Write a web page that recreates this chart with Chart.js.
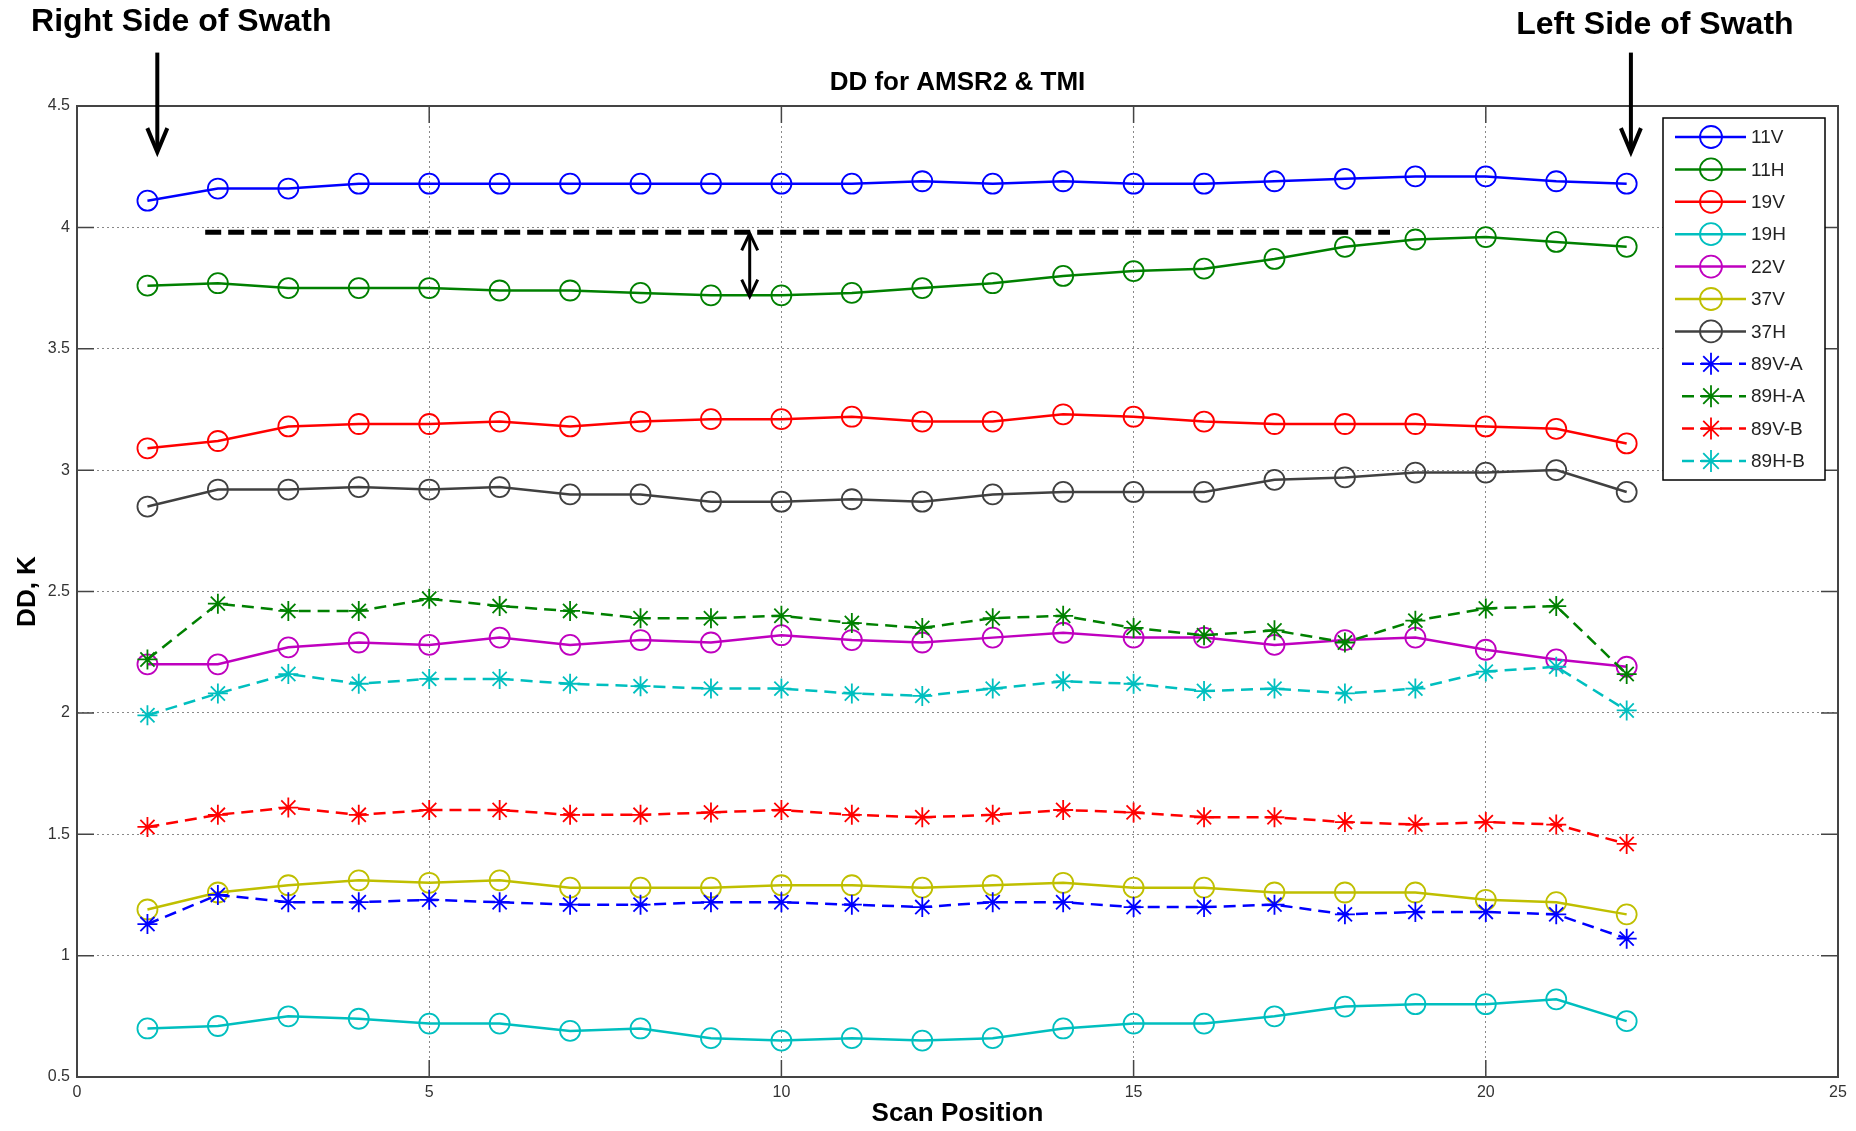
<!DOCTYPE html>
<html lang="en">
<head>
    <meta charset="UTF-8">
    <title>DD for AMSR2 &amp; TMI</title>
    <script src="https://cdn.jsdelivr.net/npm/chart.js"></script>
    <style>
        body { margin: 0; background: #fff; }
        #wrap { width: 1856px; height: 1131px; }
    </style>
</head>
<body>
<div id="wrap"><canvas id="ddChart" width="1856" height="1131"></canvas></div>
<script>
    // Scan positions and DD values (K)
    const scanPos = [1, 2, 3, 4, 5, 6, 7, 8, 9, 10, 11, 12, 13, 14, 15, 16, 17, 18, 19, 20, 21, 22];
    const dd11V  = [4.11, 4.16, 4.16, 4.18, 4.18, 4.18, 4.18, 4.18, 4.18, 4.18, 4.18, 4.19, 4.18, 4.19, 4.18, 4.18, 4.19, 4.20, 4.21, 4.21, 4.19, 4.18];
    const dd11H  = [3.76, 3.77, 3.75, 3.75, 3.75, 3.74, 3.74, 3.73, 3.72, 3.72, 3.73, 3.75, 3.77, 3.80, 3.82, 3.83, 3.87, 3.92, 3.95, 3.96, 3.94, 3.92];
    const dd19V  = [3.09, 3.12, 3.18, 3.19, 3.19, 3.20, 3.18, 3.20, 3.21, 3.21, 3.22, 3.20, 3.20, 3.23, 3.22, 3.20, 3.19, 3.19, 3.19, 3.18, 3.17, 3.11];
    const dd19H  = [0.70, 0.71, 0.75, 0.74, 0.72, 0.72, 0.69, 0.70, 0.66, 0.65, 0.66, 0.65, 0.66, 0.70, 0.72, 0.72, 0.75, 0.79, 0.80, 0.80, 0.82, 0.73];
    const dd22V  = [2.20, 2.20, 2.27, 2.29, 2.28, 2.31, 2.28, 2.30, 2.29, 2.32, 2.30, 2.29, 2.31, 2.33, 2.31, 2.31, 2.28, 2.30, 2.31, 2.26, 2.22, 2.19];
    const dd37V  = [1.19, 1.26, 1.29, 1.31, 1.30, 1.31, 1.28, 1.28, 1.28, 1.29, 1.29, 1.28, 1.29, 1.30, 1.28, 1.28, 1.26, 1.26, 1.26, 1.23, 1.22, 1.17];
    const dd37H  = [2.85, 2.92, 2.92, 2.93, 2.92, 2.93, 2.90, 2.90, 2.87, 2.87, 2.88, 2.87, 2.90, 2.91, 2.91, 2.91, 2.96, 2.97, 2.99, 2.99, 3.00, 2.91];
    const dd89VA = [1.13, 1.25, 1.22, 1.22, 1.23, 1.22, 1.21, 1.21, 1.22, 1.22, 1.21, 1.20, 1.22, 1.22, 1.20, 1.20, 1.21, 1.17, 1.18, 1.18, 1.17, 1.07];
    const dd89HA = [2.22, 2.45, 2.42, 2.42, 2.47, 2.44, 2.42, 2.39, 2.39, 2.40, 2.37, 2.35, 2.39, 2.40, 2.35, 2.32, 2.34, 2.29, 2.38, 2.43, 2.44, 2.16];
    const dd89VB = [1.53, 1.58, 1.61, 1.58, 1.60, 1.60, 1.58, 1.58, 1.59, 1.60, 1.58, 1.57, 1.58, 1.60, 1.59, 1.57, 1.57, 1.55, 1.54, 1.55, 1.54, 1.46];
    const dd89HB = [1.99, 2.08, 2.16, 2.12, 2.14, 2.14, 2.12, 2.11, 2.10, 2.10, 2.08, 2.07, 2.10, 2.13, 2.12, 2.09, 2.10, 2.08, 2.10, 2.17, 2.19, 2.01];

    const seriesNames  = ['11V', '11H', '19V', '19H', '22V', '37V', '37H', '89V-A', '89H-A', '89V-B', '89H-B'];
    const seriesValues = [dd11V, dd11H, dd19V, dd19H, dd22V, dd37V, dd37H, dd89VA, dd89HA, dd89VB, dd89HB];
    const seriesColors = ['#0000ff', '#008000', '#ff0000', '#00bfbf', '#bf00bf', '#bfbf00', '#404040',
                          '#0000ff', '#008000', '#ff0000', '#00bfbf'];
    const seriesDashed = [false, false, false, false, false, false, false, true, true, true, true];

    const xTicks = [0, 5, 10, 15, 20, 25];
    const yTicks = [0.5, 1, 1.5, 2, 2.5, 3, 3.5, 4, 4.5];

    // annotation anchors, in data units
    const gapLineX = [1.82, 18.64];
    const gapLineY = 3.98;
    const gapArrowX = 9.55;
    const gapArrowY = [3.975, 3.715];
    const swathArrowX = [1.14, 22.06];
    const swathArrowY = [4.72, 4.31];
    const swathLabels = ['Right Side of Swath', 'Left Side of Swath'];

    const FONT = "'Liberation Sans', Arial, Helvetica, sans-serif";

    const datasets = seriesValues.map((vals, i) => ({
        label: seriesNames[i],
        data: scanPos.map((x, j) => ({ x: x, y: vals[j] })),
        borderColor: seriesColors[i],
        backgroundColor: 'transparent',
        borderWidth: 2.5,
        borderDash: seriesDashed[i] ? [12, 7] : [],
        pointStyle: seriesDashed[i] ? 'star' : 'circle',
        pointRadius: 10,
        pointBorderWidth: 1.8,
        pointBorderColor: seriesColors[i],
        pointBackgroundColor: 'transparent',
        tension: 0,
        order: seriesNames.length - i
    }));

    // MATLAB-like box with inward ticks on all four sides
    const boxPlugin = {
        id: 'box',
        afterDatasetsDraw(chart) {
            const { ctx, chartArea: a, scales: { x, y } } = chart;
            const tl = 17;
            ctx.save();
            ctx.strokeStyle = '#444';
            ctx.lineWidth = 1.5;
            ctx.beginPath();
            xTicks.forEach(v => {
                const px = x.getPixelForValue(v);
                ctx.moveTo(px, a.bottom); ctx.lineTo(px, a.bottom - tl);
                ctx.moveTo(px, a.top); ctx.lineTo(px, a.top + tl);
            });
            yTicks.forEach(v => {
                const py = y.getPixelForValue(v);
                ctx.moveTo(a.left, py); ctx.lineTo(a.left + tl, py);
                ctx.moveTo(a.right, py); ctx.lineTo(a.right - tl, py);
            });
            ctx.stroke();
            ctx.lineWidth = 2;
            ctx.strokeRect(a.left, a.top, a.right - a.left, a.bottom - a.top);
            ctx.restore();
        }
    };

    function arrowHead(ctx, tx, ty, dir, half, len) {
        ctx.beginPath();
        ctx.moveTo(tx - half, ty - dir * len);
        ctx.lineTo(tx, ty);
        ctx.lineTo(tx + half, ty - dir * len);
        ctx.stroke();
    }

    // dashed reference line, double arrow, swath labels and arrows
    const notesPlugin = {
        id: 'notes',
        afterDraw(chart) {
            const { ctx, scales: { x, y } } = chart;
            ctx.save();
            ctx.strokeStyle = '#000';
            ctx.lineCap = 'butt';

            // dashed black line
            ctx.lineWidth = 5;
            ctx.setLineDash([16, 7]);
            ctx.beginPath();
            ctx.moveTo(x.getPixelForValue(gapLineX[0]), y.getPixelForValue(gapLineY));
            ctx.lineTo(x.getPixelForValue(gapLineX[1]), y.getPixelForValue(gapLineY));
            ctx.stroke();
            ctx.setLineDash([]);

            // double-headed arrow
            const ax = x.getPixelForValue(gapArrowX);
            const ay0 = y.getPixelForValue(gapArrowY[0]);
            const ay1 = y.getPixelForValue(gapArrowY[1]);
            ctx.lineWidth = 3;
            ctx.beginPath();
            ctx.moveTo(ax, ay0); ctx.lineTo(ax, ay1);
            ctx.stroke();
            arrowHead(ctx, ax, ay0, -1, 8, 17);
            arrowHead(ctx, ax, ay1, 1, 8, 17);

            // swath arrows and labels
            ctx.font = 'bold 32px ' + FONT;
            ctx.fillStyle = '#000';
            ctx.textAlign = 'center';
            ctx.textBaseline = 'middle';
            swathArrowX.forEach((sx, i) => {
                const px = x.getPixelForValue(sx);
                const top = y.getPixelForValue(swathArrowY[0]);
                const tip = y.getPixelForValue(swathArrowY[1]);
                ctx.lineWidth = 4;
                ctx.beginPath();
                ctx.moveTo(px, top); ctx.lineTo(px, tip - 2);
                ctx.stroke();
                arrowHead(ctx, px, tip, 1, 10, 24);
                ctx.fillText(swathLabels[i], px + 24, i === 0 ? 22 : 25);
            });

            // plot title
            ctx.font = 'bold 26px ' + FONT;
            ctx.fillText('DD for AMSR2 & TMI', (chart.chartArea.left + chart.chartArea.right) / 2, 83);
            ctx.restore();
        }
    };

    // legend box inside the axes, top right
    const legendPlugin = {
        id: 'boxLegend',
        afterDraw(chart) {
            const ctx = chart.ctx;
            const bx = 1663, by = 118, bw = 162, bh = 362, rowH = 32.4, firstRow = 137;
            ctx.save();
            ctx.fillStyle = '#fff';
            ctx.fillRect(bx, by, bw, bh);
            ctx.strokeStyle = '#000';
            ctx.lineWidth = 1.5;
            ctx.strokeRect(bx, by, bw, bh);
            chart.data.datasets.forEach((ds, i) => {
                const cy = firstRow + i * rowH;
                ctx.strokeStyle = ds.borderColor;
                ctx.lineWidth = 2.5;
                ctx.setLineDash(ds.borderDash);
                ctx.beginPath();
                ctx.moveTo(seriesDashed[i] ? 1682 : 1675, cy);
                ctx.lineTo(1746, cy);
                ctx.stroke();
                ctx.setLineDash([]);
                ctx.lineWidth = 1.8;
                ctx.fillStyle = 'rgba(0,0,0,0)';
                Chart.helpers.drawPoint(ctx, {
                    pointStyle: ds.pointStyle, radius: 11, rotation: 0, borderWidth: 1.8
                }, 1711, cy);
                ctx.fillStyle = '#222';
                ctx.font = '19px ' + FONT;
                ctx.textAlign = 'left';
                ctx.textBaseline = 'middle';
                ctx.fillText(ds.label, 1751, cy + 1);
            });
            ctx.restore();
        }
    };

    new Chart(document.getElementById('ddChart'), {
        type: 'line',
        data: { datasets: datasets },
        options: {
            responsive: false,
            animation: false,
            layout: { padding: { top: 106, right: 18, left: 0, bottom: 0 } },
            plugins: {
                legend: { display: false },
                title: { display: false },
                tooltip: { enabled: false }
            },
            scales: {
                x: {
                    type: 'linear',
                    min: 0,
                    max: 25,
                    afterBuildTicks: s => { s.ticks = xTicks.map(v => ({ value: v })); },
                    afterFit: s => { s.height = 54; },
                    grid: { color: '#888', lineWidth: 1, drawTicks: false },
                    border: { display: false, dash: [2, 3] },
                    ticks: { color: '#333', padding: 6, font: { family: FONT, size: 16 }, callback: v => String(v) },
                    title: {
                        display: true,
                        text: 'Scan Position',
                        color: '#000',
                        padding: { top: 2, bottom: 2 },
                        font: { family: FONT, size: 26, weight: 'bold' }
                    }
                },
                y: {
                    type: 'linear',
                    min: 0.5,
                    max: 4.5,
                    afterBuildTicks: s => { s.ticks = yTicks.map(v => ({ value: v })); },
                    afterFit: s => { s.width = 77; },
                    grid: { color: '#888', lineWidth: 1, drawTicks: false },
                    border: { display: false, dash: [2, 3] },
                    ticks: { color: '#333', padding: 7, font: { family: FONT, size: 16 }, callback: v => String(v) },
                    title: {
                        display: true,
                        text: 'DD, K',
                        color: '#000',
                        padding: { top: 12, bottom: 12 },
                        font: { family: FONT, size: 26, weight: 'bold' }
                    }
                }
            }
        },
        plugins: [boxPlugin, notesPlugin, legendPlugin]
    });
</script>
</body>
</html>
